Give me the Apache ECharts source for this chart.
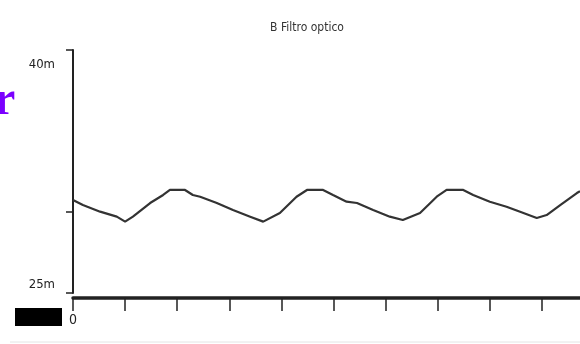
<!DOCTYPE html>
<html>
<head>
<meta charset="utf-8">
<script src="https://cdn.jsdelivr.net/npm/echarts@6/dist/echarts.min.js"></script>
<style>html,body{margin:0;padding:0;background:#fff}#c{width:580px;height:344px}</style>
</head>
<body>
<div id="c"></div>
<script>
var titleText = 'B Filtro optico';
var yLabelValues = [25, 40];
var yTickValues = [24.455, 30, 41.023];
var xTickValues = [0, 1, 2, 3, 4, 5, 6, 7, 8, 9];
var xLabelValues = [0];
var xs = [0,0.19,0.52,0.84,1.0,1.15,1.48,1.73,1.86,2.15,2.30,2.44,2.76,3.07,3.40,3.65,3.97,4.29,4.49,4.80,4.99,5.25,5.45,5.76,6.08,6.33,6.66,6.98,7.17,7.49,7.68,8.00,8.32,8.58,8.90,9.09,9.35,9.67,9.73];
var ys = [30.80,30.45,30.00,29.66,29.32,29.66,30.59,31.14,31.48,31.48,31.14,31.02,30.59,30.11,29.66,29.32,29.91,31.02,31.48,31.48,31.14,30.68,30.59,30.11,29.66,29.43,29.91,31.02,31.48,31.48,31.14,30.68,30.34,30.00,29.57,29.77,30.45,31.27,31.40];

var data = xs.map(function (x, i) { return [x, ys[i]]; });
var font = '"Liberation Sans Narrow", "DejaVu Sans Condensed", "Roboto Condensed", sans-serif';

var chart = echarts.init(document.getElementById('c'), null, {renderer: 'canvas'});
chart.setOption({
  backgroundColor: '#ffffff',
  animation: false,
  title: {
    text: titleText, left: 302, top: 17, textAlign: 'center',
    textStyle: {fontSize: 12, fontWeight: 'normal', color: '#333', fontFamily: font}
  },
  grid: {left: 73, right: 0, top: 50, bottom: 51},
  xAxis: {
    type: 'value', min: 0, max: 9.73, interval: 1, offset: 5,
    axisLine: {show: true, lineStyle: {color: '#222', width: 3.5}},
    axisTick: {show: true, length: 13, customValues: xTickValues, lineStyle: {color: '#222', width: 1.5}},
    axisLabel: {customValues: xLabelValues, margin: 15, fontSize: 14, color: '#222', fontFamily: font},
    splitLine: {show: false}
  },
  yAxis: {
    type: 'value', min: 24.455, max: 41.023, offset: 4,
    axisLine: {show: true, lineStyle: {color: '#222', width: 2}},
    axisTick: {show: true, length: 7, customValues: yTickValues, lineStyle: {color: '#222', width: 1.5}},
    axisLabel: {customValues: yLabelValues, margin: 14, fontSize: 13, color: '#222', fontFamily: font,
      formatter: function (v) { return v + 'm'; }},
    splitLine: {show: false}
  },
  graphic: [
    {type: 'text', left: -6, top: 78, style: {text: 'r', fill: '#7b00ff', font: 'bold 48px "Liberation Serif", "DejaVu Serif", serif'}},
    {type: 'rect', shape: {x: 15, y: 308, width: 47, height: 18}, style: {fill: '#000'}},
    {type: 'line', shape: {x1: 10, y1: 342, x2: 580, y2: 342}, style: {stroke: '#e4e4e4', lineWidth: 1}}
  ],
  series: [{
    type: 'line', data: data, symbol: 'none', smooth: false,
    lineStyle: {color: '#333', width: 2.2}
  }]
});
</script>
</body>
</html>
